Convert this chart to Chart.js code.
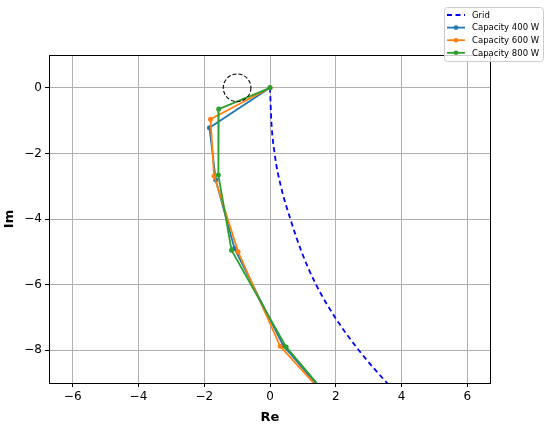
<!DOCTYPE html>
<html>
<head>
<meta charset="utf-8">
<script src="https://cdn.jsdelivr.net/npm/chart.js@4.4.1/dist/chart.umd.min.js"></script>
<style>
  html, body { margin: 0; padding: 0; background: #fff; }
  #wrap { width: 550px; height: 425px; position: relative; }
</style>
</head>
<body>
<div id="wrap"><canvas id="c" width="550" height="425"></canvas></div>
<script>
// axis ranges and ticks
const xRange = [-6.72, 6.72];
const yRange = [-9, 1];
const xTicks = [-6, -4, -2, 0, 2, 4, 6];
const yTicks = [-8, -6, -4, -2, 0];

// grid impedance curve
const gridRe = [0, 0.04, 0.14, 0.33, 0.62, 0.96, 1.40, 1.98, 2.70, 3.56, 4.05];
const gridIm = [0, -1, -2, -3, -4, -5, -6, -7, -8, -9, -9.5];

// converter curves
const cap400Re = [0, -1.84, -1.65, -1.08, 0.40, 2.6];
const cap400Im = [0, -1.22, -2.81, -4.90, -7.86, -10.4];
const cap600Re = [0, -1.81, -1.70, -0.97, 0.31, 2.6];
const cap600Im = [0, -0.96, -2.69, -5.00, -7.88, -10.4];
const cap800Re = [0, -1.56, -1.57, -1.17, 0.49, 2.6];
const cap800Im = [0, -0.65, -2.66, -4.95, -7.90, -10.4];

// critical point circle
const circleCenter = [-1, 0];
const circleRadius = 0.42;

const FONT = 'DejaVu Sans';

function pts(re, im) { return re.map((x, i) => ({ x: x, y: im[i] })); }

function lineSet(label, re, im, color, order) {
  return {
    label, data: pts(re, im), showLine: true,
    borderColor: color, backgroundColor: color,
    borderWidth: 1.8, pointRadius: 2.5, pointHoverRadius: 2.5,
    pointBorderWidth: 0, tension: 0, order
  };
}

const datasets = [
  {
    label: 'Grid', data: pts(gridRe, gridIm), showLine: true,
    borderColor: '#0000ff', backgroundColor: '#0000ff', borderWidth: 1.8,
    borderDash: [5, 3.5], pointRadius: 0, cubicInterpolationMode: 'monotone', order: 3
  },
  lineSet('Capacity 400 W', cap400Re, cap400Im, '#1f77b4', 2),
  lineSet('Capacity 600 W', cap600Re, cap600Im, '#ff7f0e', 1),
  lineSet('Capacity 800 W', cap800Re, cap800Im, '#2ca02c', 0)
];

// dashed circle around -1, frame and legend drawn on top
const extras = {
  id: 'extras',
  afterDatasetsDraw(chart) {
    const { ctx, chartArea: a, scales: { x, y } } = chart;
    const cx = x.getPixelForValue(circleCenter[0]);
    const cy = y.getPixelForValue(circleCenter[1]);
    const r = x.getPixelForValue(circleCenter[0] + circleRadius) - cx;
    ctx.save();
    ctx.beginPath();
    ctx.rect(a.left, a.top, a.right - a.left, a.bottom - a.top);
    ctx.clip();
    ctx.setLineDash([4, 2]);
    ctx.strokeStyle = '#000';
    ctx.lineWidth = 1.1;
    ctx.beginPath();
    ctx.arc(cx, cy, r, 0, Math.PI * 2);
    ctx.stroke();
    ctx.restore();
  },
  afterDraw(chart) {
    const { ctx, chartArea: a } = chart;
    ctx.save();
    ctx.strokeStyle = '#000';
    ctx.lineWidth = 1;
    ctx.strokeRect(Math.round(a.left) + 0.5, Math.round(a.top) + 0.5,
      Math.round(a.right - a.left) - 1, Math.round(a.bottom - a.top));
    ctx.restore();

    // legend box
    const bx = 444.5, by = 7.5, bw = 99, bh = 54, rad = 3;
    ctx.save();
    ctx.beginPath();
    ctx.roundRect(bx, by, bw, bh, rad);
    ctx.fillStyle = 'rgba(255,255,255,0.8)';
    ctx.fill();
    ctx.strokeStyle = '#cccccc';
    ctx.lineWidth = 1;
    ctx.stroke();
    ctx.font = '8.5px "' + FONT + '"';
    ctx.textBaseline = 'middle';
    chart.data.datasets.forEach((ds, i) => {
      const ly = 15 + i * 12.6;
      ctx.strokeStyle = ds.borderColor;
      ctx.lineWidth = 1.8;
      ctx.setLineDash(ds.borderDash || []);
      ctx.beginPath();
      ctx.moveTo(447, ly);
      ctx.lineTo(465, ly);
      ctx.stroke();
      ctx.setLineDash([]);
      if (ds.pointRadius > 0) {
        ctx.fillStyle = ds.borderColor;
        ctx.beginPath();
        ctx.arc(456, ly, 2.3, 0, Math.PI * 2);
        ctx.fill();
      }
      ctx.fillStyle = '#000';
      ctx.fillText(ds.label, 472, ly + 0.5);
    });
    ctx.restore();
  }
};

function axis(range, ticks, title, fit) {
  return {
    type: 'linear', min: range[0], max: range[1],
    afterBuildTicks: s => { s.ticks = ticks.map(v => ({ value: v })); },
    afterFit: fit,
    grid: { color: '#b0b0b0', lineWidth: 1, tickColor: '#000', tickLength: 4, drawTicks: true },
    border: { display: false },
    ticks: {
      color: '#000', padding: 3, autoSkip: false, maxRotation: 0,
      font: { family: FONT, size: 12 },
      callback: v => (v < 0 ? '\u2212' + Math.abs(v) : String(v))
    },
    title: {
      display: true, text: title, color: '#000',
      font: { family: FONT, size: 13, weight: 'bold' }, padding: { top: 2, bottom: 0 }
    }
  };
}

new Chart(document.getElementById('c'), {
  type: 'scatter',
  data: { datasets },
  options: {
    responsive: false, animation: false,
    layout: { padding: { left: 0, top: 55, right: 59, bottom: 0 } },
    plugins: { legend: { display: false }, tooltip: { enabled: false } },
    scales: {
      x: axis(xRange, xTicks, 'Re', s => { s.height = 42; }),
      y: axis(yRange, yTicks, 'Im', s => { s.width = 49; })
    }
  },
  plugins: [extras]
});
</script>
</body>
</html>
